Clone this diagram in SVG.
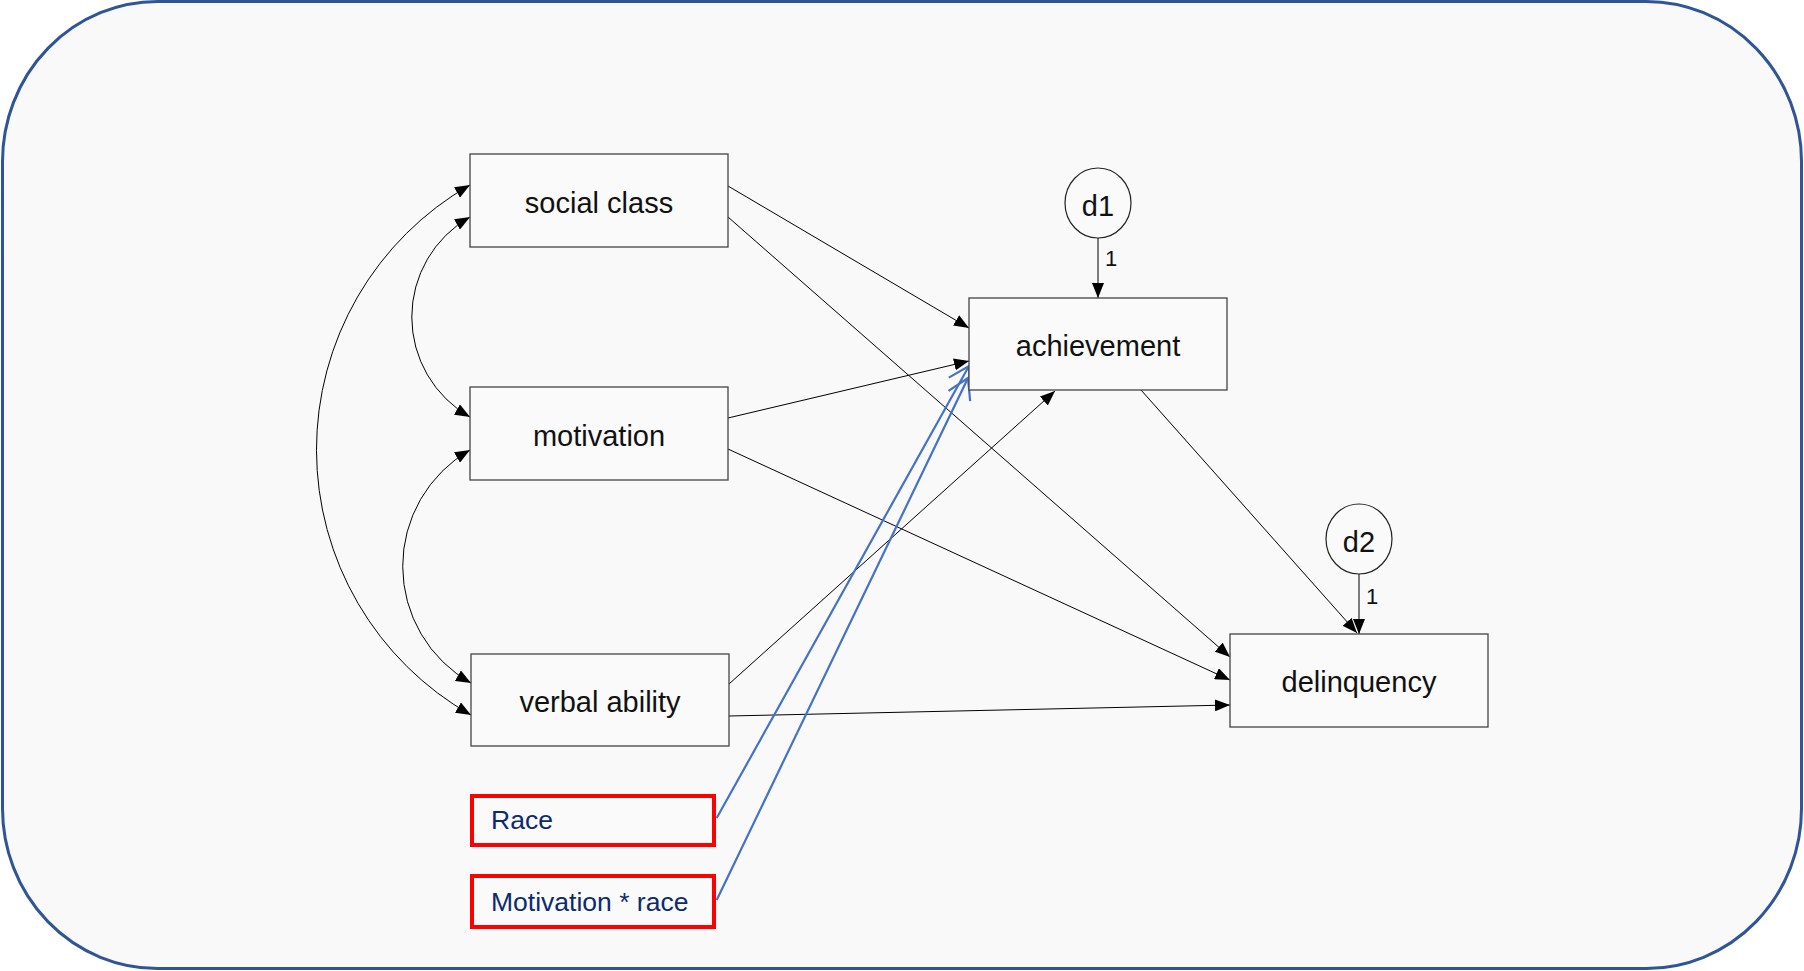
<svg xmlns="http://www.w3.org/2000/svg" width="1804" height="971" viewBox="0 0 1804 971">
  <defs>
    <style>
      .frame { fill: #f9f9f9; stroke: #2f5597; stroke-width: 3; }
      .box { fill: #fafafa; stroke: #444; stroke-width: 1.3; }
      .err { fill: #fafafa; stroke: #222; stroke-width: 1.2; }
      .tag { fill: #fafafa; stroke: #ff0000; stroke-width: 4; }
      .lbl { font-family: "Liberation Sans", Arial, sans-serif; font-size: 29px; fill: #111; text-anchor: middle; }
      .num { font-family: "Liberation Sans", Arial, sans-serif; font-size: 22px; fill: #111; }
      .tagtxt { font-family: "Liberation Sans", Arial, sans-serif; font-size: 26.5px; fill: #0c2a6e; }
      .path { fill: none; stroke: #000; stroke-width: 1; marker-end: url(#head); }
      .cov { fill: none; stroke: #000; stroke-width: 1; marker-start: url(#head); marker-end: url(#head); }
      .mod { fill: none; stroke: #4472c4; stroke-width: 2.2; marker-end: url(#open); }
    </style>
    <marker id="head" markerUnits="userSpaceOnUse" viewBox="0 0 15 12" markerWidth="15" markerHeight="12" refX="15" refY="6" orient="auto-start-reverse">
      <path d="M0,0 L15,6 L0,12 z" fill="#000"/>
    </marker>
    <marker id="open" markerUnits="userSpaceOnUse" viewBox="-2 -2 25 29" markerWidth="25" markerHeight="29" refX="20" refY="12" orient="auto">
      <path d="M0,0 L20,12 L0,24" fill="none" stroke="#4472c4" stroke-width="2.2"/>
    </marker>
  </defs>

  <!-- outer panel -->
  <rect class="frame" x="2.5" y="1.5" width="1799" height="967" rx="155" ry="160"/>

  <!-- connectors -->
  <g id="connectors">
    <!-- covariances -->
    <path class="cov" d="M470,185 A305,305 0 0 0 471,715"/>
    <path class="cov" d="M470,217 A115,115 0 0 0 470,417"/>
    <path class="cov" d="M470,450 A134,134 0 0 0 471,683"/>
    <!-- regression paths -->
    <path class="path" d="M728,186 L969,328"/>
    <path class="path" d="M728,217 L1230,657"/>
    <path class="path" d="M728,418 L969,361"/>
    <path class="path" d="M728,449 L1230,680"/>
    <path class="path" d="M729,684 L1055,391"/>
    <path class="path" d="M729,716 L1230,705"/>
    <path class="path" d="M1141,390 L1357,633"/>
    <!-- disturbances -->
    <path class="path" d="M1098,238 L1098,298"/>
    <path class="path" d="M1359,574 L1359,634"/>
    <!-- moderator paths -->
    <path class="mod" d="M716.7,818 L969,366"/>
    <path class="mod" d="M716.7,900 L968,378"/>
    <text class="num" x="1105" y="266">1</text>
    <text class="num" x="1366" y="604">1</text>
  </g>

  <g id="social-class">
    <rect class="box" x="470" y="154" width="258" height="93"/>
    <text class="lbl" x="599" y="213">social class</text>
  </g>
  <g id="motivation">
    <rect class="box" x="470" y="387" width="258" height="93"/>
    <text class="lbl" x="599" y="446">motivation</text>
  </g>
  <g id="verbal-ability">
    <rect class="box" x="471" y="654" width="258" height="92"/>
    <text class="lbl" x="600" y="712">verbal ability</text>
  </g>
  <g id="achievement">
    <rect class="box" x="969" y="298" width="258" height="92"/>
    <text class="lbl" x="1098" y="356">achievement</text>
  </g>
  <g id="delinquency">
    <rect class="box" x="1230" y="634" width="258" height="93"/>
    <text class="lbl" x="1359" y="692">delinquency</text>
  </g>
  <g id="d1">
    <ellipse class="err" cx="1098" cy="203" rx="33" ry="35"/>
    <text class="lbl" x="1098" y="216">d1</text>
  </g>
  <g id="d2">
    <ellipse class="err" cx="1359" cy="539" rx="33" ry="35"/>
    <text class="lbl" x="1359" y="552">d2</text>
  </g>
  <g id="race">
    <rect class="tag" x="472" y="796" width="242" height="49"/>
    <text class="tagtxt" x="491" y="829">Race</text>
  </g>
  <g id="motivation-race">
    <rect class="tag" x="472" y="876" width="242" height="51"/>
    <text class="tagtxt" x="491" y="911">Motivation * race</text>
  </g>
</svg>
